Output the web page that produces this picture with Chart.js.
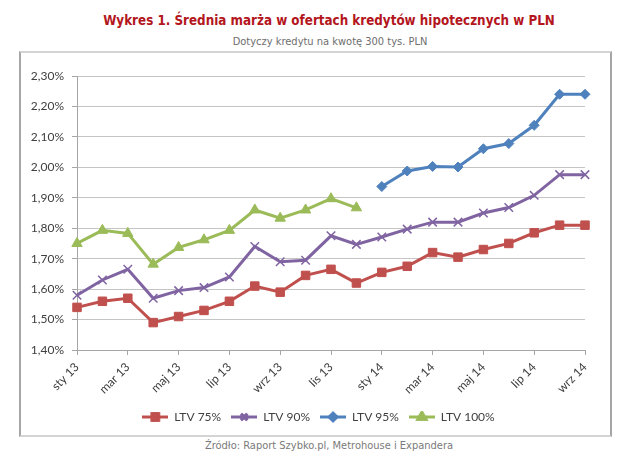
<!DOCTYPE html>
<html>
<head>
<meta charset="utf-8">
<script src="https://cdn.jsdelivr.net/npm/chart.js@4.4.1/dist/chart.umd.min.js"></script>
<style>
  body { margin: 0; background: #fff; }
  .wrap { position: relative; width: 640px; height: 468px; overflow: hidden; }
  .frame {
    position: absolute; left: 19px; top: 51px; width: 589px; height: 382px;
    border-left: 2px solid #a6a6a6; border-right: 2px solid #a6a6a6;
    border-top: 2px solid #d4d4d4; border-bottom: 2px solid #d4d4d4;
  }
  .title {
    position: absolute; left: 0; width: 658px; top: 13px; text-align: center;
    font: bold 13.3px "DejaVu Sans Condensed", "DejaVu Sans", sans-serif; color: #b3161c;
  }
  .subtitle {
    position: absolute; left: 0; width: 660px; top: 35px; text-align: center;
    font: 11px "DejaVu Sans Condensed", "DejaVu Sans", sans-serif; color: #6e6e6e;
  }
  .source {
    position: absolute; left: 0; width: 658px; top: 439px; text-align: center;
    font: 11px "DejaVu Sans Condensed", "DejaVu Sans", sans-serif; color: #7a7a7a;
  }
  canvas { position: absolute; left: 0; top: 0; }
</style>
</head>
<body>
<div class="wrap">
  <div class="frame"></div>
  <div class="title">Wykres 1. Średnia marża w ofertach kredytów hipotecznych w PLN</div>
  <div class="subtitle">Dotyczy kredytu na kwotę 300 tys. PLN</div>
  <div class="source">Źródło: Raport Szybko.pl, Metrohouse i Expandera</div>
  <canvas id="chart" width="640" height="468"></canvas>
</div>
<script>
const months = [
  'sty 13', 'lut 13', 'mar 13', 'kwi 13', 'maj 13', 'cze 13', 'lip 13',
  'sie 13', 'wrz 13', 'paź 13', 'lis 13', 'gru 13', 'sty 14', 'lut 14',
  'mar 14', 'kwi 14', 'maj 14', 'cze 14', 'lip 14', 'sie 14', 'wrz 14'
];
const ltv75 = [1.54, 1.56, 1.57, 1.49, 1.51, 1.53, 1.56, 1.61, 1.59, 1.645, 1.665,
  1.62, 1.655, 1.675, 1.72, 1.705, 1.73, 1.75, 1.785, 1.81, 1.81];
const ltv90 = [1.58, 1.63, 1.665, 1.57, 1.595, 1.605, 1.64, 1.74, 1.69, 1.695, 1.775,
  1.747, 1.771, 1.797, 1.82, 1.82, 1.85, 1.868, 1.908, 1.976, 1.976];
const ltv95 = [null, null, null, null, null, null, null, null, null, null, null,
  null, 1.937, 1.988, 2.003, 2.001, 2.061, 2.078, 2.138, 2.24, 2.24];
const ltv100 = [1.75, 1.793, 1.783, 1.682, 1.737, 1.762, 1.793, 1.86, 1.833, 1.86, 1.897,
  1.867, null, null, null, null, null, null, null, null, null];
const yTicks = { min: 1.4, max: 2.3, step: 0.1 };

const series = [
  { label: 'LTV 75%', data: ltv75, color: '#c0504d', style: 'rect', radius: 6 },
  { label: 'LTV 90%', data: ltv90, color: '#8064a2', style: 'crossRot', radius: 6 },
  { label: 'LTV 95%', data: ltv95, color: '#4f81bd', style: 'rectRot', radius: 5 },
  { label: 'LTV 100%', data: ltv100, color: '#9bbb59', style: 'triangle', radius: 6 }
];

// small line+marker pictures for the legend, like Excel does
function legendIcon(s) {
  const c = document.createElement('canvas');
  c.width = 26; c.height = 12;
  const g = c.getContext('2d');
  g.strokeStyle = s.color; g.lineWidth = 3;
  g.beginPath(); g.moveTo(0, 6); g.lineTo(26, 6); g.stroke();
  g.fillStyle = s.color;
  Chart.helpers.drawPoint(g, { pointStyle: s.style, radius: s.radius * 0.75, rotation: 0, borderWidth: 1.5 }, 13, 6);
  g.fill(); g.stroke();
  return c;
}

const fmt = v => v.toFixed(2).replace('.', ',') + '%';

// legend in the original is centred on the whole frame, not on the padded area
const shiftLegend = {
  id: 'shiftLegend',
  afterLayout(chart) {
    if (chart.legend) { chart.legend.left += 26; chart.legend.right += 26; }
  }
};

new Chart(document.getElementById('chart').getContext('2d'), {
  type: 'line',
  data: {
    labels: months,
    datasets: series.map(s => ({
      label: s.label,
      data: s.data,
      borderColor: s.color,
      backgroundColor: s.color,
      borderWidth: 3,
      pointStyle: s.style,
      pointRadius: s.radius,
      pointBorderWidth: s.style === 'crossRot' ? 1.5 : 1,
      pointBackgroundColor: s.color,
      pointBorderColor: s.color,
      tension: 0,
      spanGaps: false
    }))
  },
  plugins: [shiftLegend],
  options: {
    responsive: false,
    animation: false,
    layout: { padding: { top: 76, right: 55, bottom: 35, left: 0 } },
    plugins: {
      title: { display: false },
      tooltip: { enabled: false },
      legend: {
        position: 'bottom',
        labels: {
          usePointStyle: true,
          pointStyleWidth: 26,
          padding: 10,
          color: '#404040',
          font: { family: 'Lato', size: 12 },
          generateLabels: chart => Chart.defaults.plugins.legend.labels.generateLabels(chart)
            .map((item, i) => Object.assign(item, { pointStyle: legendIcon(series[i]) }))
        }
      }
    },
    scales: {
      x: {
        afterFit: s => { s.height = 51; },
        grid: {
          drawOnChartArea: false,
          tickLength: 5,
          tickColor: ctx => ctx.index % 2 ? 'rgba(0,0,0,0)' : '#a6a6a6'
        },
        border: { color: '#a6a6a6' },
        ticks: {
          autoSkip: false,
          minRotation: 45,
          maxRotation: 45,
          padding: 5,
          color: '#404040',
          font: { family: 'Lato', size: 12 },
          callback: (v, i) => i % 2 ? '' : months[i]
        }
      },
      y: {
        min: yTicks.min,
        max: yTicks.max,
        afterFit: s => { s.width = 77; },
        grid: { color: '#c4c4c4', tickLength: 5, tickColor: '#a6a6a6' },
        border: { color: '#a6a6a6' },
        ticks: {
          stepSize: yTicks.step,
          padding: 8,
          color: '#404040',
          font: { family: 'Lato', size: 12 },
          callback: v => fmt(v)
        }
      }
    }
  }
});
</script>
</body>
</html>
